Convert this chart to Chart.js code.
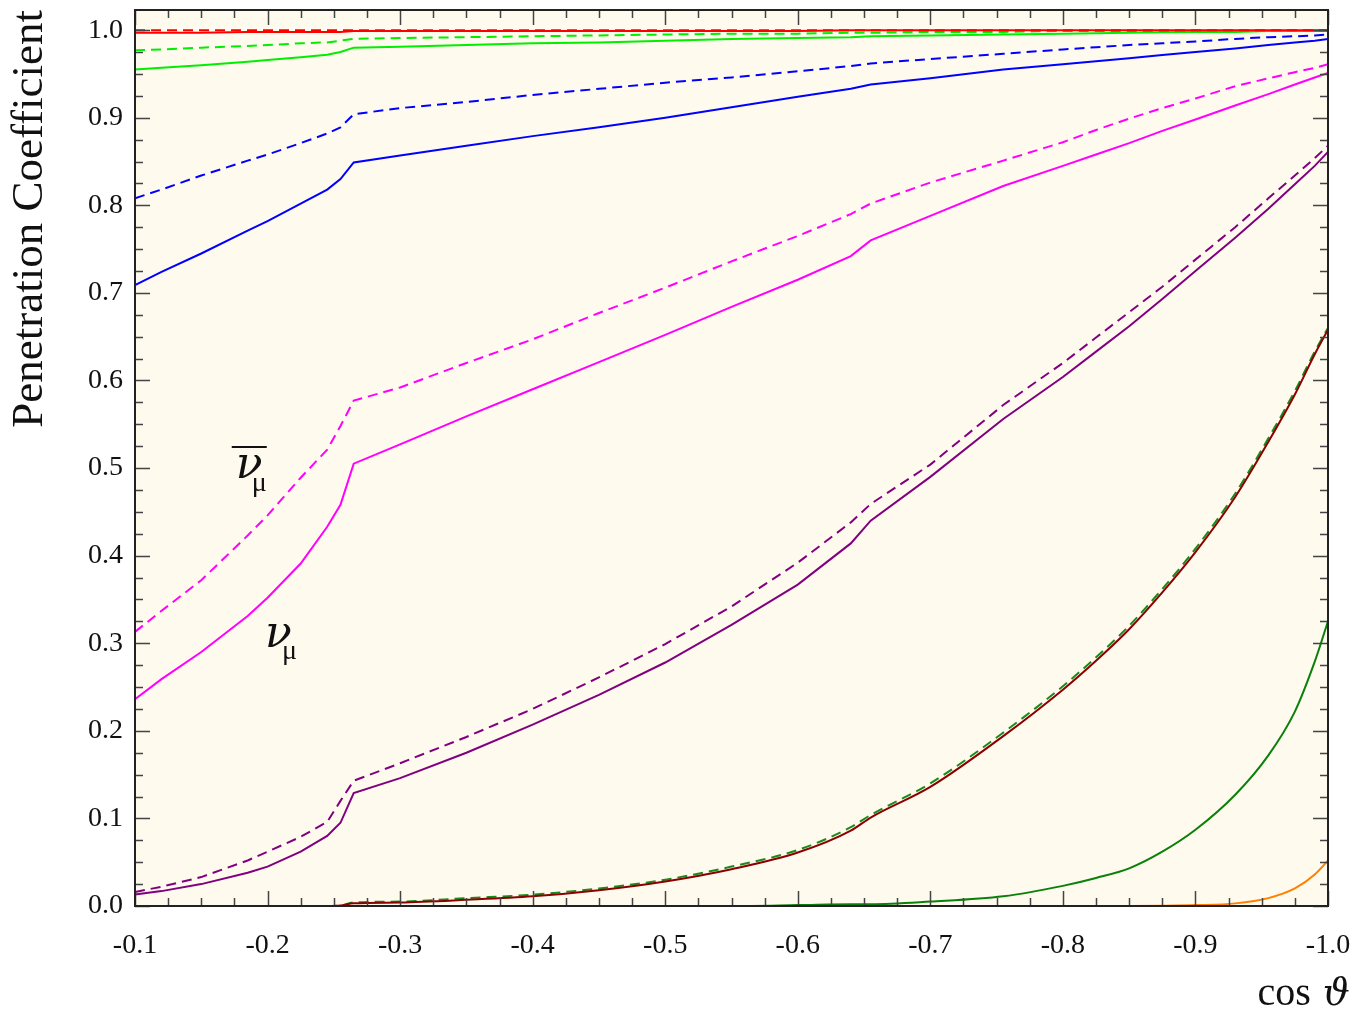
<!DOCTYPE html>
<html>
<head>
<meta charset="utf-8">
<script src="https://cdn.jsdelivr.net/npm/chart.js@4.4.1/dist/chart.umd.min.js"></script>
<style>
  html, body { margin: 0; padding: 0; background: #fff; }
  #wrap { width: 1360px; height: 1011px; }
</style>
</head>
<body>
<div id="wrap"><canvas id="chart"></canvas></div>
<script>
// cos(theta) sample points shared by every curve
const cosTheta = [-0.1, -0.12, -0.15, -0.185, -0.2, -0.225, -0.245, -0.255, -0.265, -0.3,
  -0.35, -0.4, -0.45, -0.5, -0.55, -0.6, -0.64, -0.655, -0.7, -0.755,
  -0.8, -0.825, -0.85, -0.875, -0.9, -0.93, -0.955, -0.975, -0.99, -1.0];

// penetration coefficients (solid = nu_mu, dashed = anti nu_mu)
const redNu      = [0.997, 0.997, 0.997, 0.998, 0.998, 0.998, 0.998, 0.998, 0.999, 0.999, 0.999, 0.999, 0.999, 0.999, 0.999, 0.999, 1.0, 1.0, 1.0, 1.0, 1.0, 1.0, 1.0, 1.0, 1.0, 1.0, 1.0, 1.0, 1.0, 1.0];
const redNuBar   = [1.0, 1.0, 1.0, 1.0, 1.0, 1.0, 1.0, 1.0, 1.0, 1.0, 1.0, 1.0, 1.0, 1.0, 1.0, 1.0, 1.0, 1.0, 1.0, 1.0, 1.0, 1.0, 1.0, 1.0, 1.0, 1.0, 1.0, 1.0, 1.0, 1.0];
const limeNu     = [0.955, 0.957, 0.960, 0.964, 0.966, 0.969, 0.972, 0.975, 0.980, 0.981, 0.983, 0.985, 0.986, 0.988, 0.990, 0.991, 0.992, 0.993, 0.994, 0.995, 0.996, 0.9965, 0.997, 0.9975, 0.998, 0.998, 0.999, 0.999, 0.999, 0.999];
const limeNuBar  = [0.977, 0.978, 0.980, 0.982, 0.983, 0.985, 0.986, 0.988, 0.990, 0.991, 0.992, 0.993, 0.994, 0.995, 0.996, 0.996, 0.997, 0.997, 0.998, 0.998, 0.999, 0.999, 0.999, 0.999, 0.999, 0.999, 0.999, 1.0, 1.0, 1.0];
const blueNu     = [0.709, 0.724, 0.745, 0.771, 0.782, 0.802, 0.818, 0.830, 0.849, 0.857, 0.868, 0.879, 0.889, 0.900, 0.912, 0.924, 0.933, 0.938, 0.945, 0.955, 0.961, 0.9645, 0.968, 0.9715, 0.975, 0.979, 0.983, 0.986, 0.988, 0.990];
const blueNuBar  = [0.808, 0.818, 0.834, 0.851, 0.858, 0.871, 0.882, 0.889, 0.904, 0.911, 0.918, 0.926, 0.933, 0.940, 0.946, 0.953, 0.959, 0.962, 0.967, 0.973, 0.978, 0.9805, 0.983, 0.985, 0.987, 0.990, 0.992, 0.993, 0.994, 0.995];
const magNu      = [0.236, 0.259, 0.290, 0.331, 0.352, 0.391, 0.433, 0.458, 0.505, 0.527, 0.559, 0.590, 0.621, 0.652, 0.684, 0.715, 0.742, 0.760, 0.788, 0.822, 0.845, 0.858, 0.871, 0.885, 0.898, 0.914, 0.927, 0.938, 0.946, 0.951];
const magNuBar   = [0.313, 0.337, 0.372, 0.423, 0.446, 0.489, 0.521, 0.548, 0.577, 0.592, 0.620, 0.647, 0.677, 0.706, 0.736, 0.765, 0.790, 0.802, 0.826, 0.851, 0.872, 0.886, 0.899, 0.911, 0.922, 0.936, 0.945, 0.952, 0.957, 0.961];
const purNu      = [0.013, 0.017, 0.025, 0.038, 0.045, 0.062, 0.080, 0.095, 0.129, 0.146, 0.175, 0.207, 0.241, 0.278, 0.321, 0.367, 0.414, 0.440, 0.490, 0.556, 0.604, 0.633, 0.662, 0.693, 0.725, 0.763, 0.796, 0.824, 0.845, 0.861];
const purNuBar   = [0.016, 0.022, 0.033, 0.052, 0.062, 0.079, 0.096, 0.120, 0.143, 0.163, 0.193, 0.225, 0.261, 0.299, 0.342, 0.392, 0.438, 0.459, 0.504, 0.572, 0.620, 0.649, 0.678, 0.707, 0.738, 0.775, 0.808, 0.834, 0.854, 0.868];
const dkRedNu    = [0, 0, 0, 0, 0, 0, 0, 0.0005, 0.003, 0.004, 0.007, 0.011, 0.018, 0.028, 0.042, 0.061, 0.086, 0.101, 0.136, 0.194, 0.247, 0.280, 0.316, 0.358, 0.404, 0.467, 0.530, 0.584, 0.630, 0.658];
const dkGreenNuBar = [0, 0, 0, 0, 0, 0, 0, 0.0005, 0.004, 0.005, 0.009, 0.013, 0.020, 0.030, 0.045, 0.064, 0.090, 0.104, 0.140, 0.198, 0.251, 0.284, 0.320, 0.362, 0.408, 0.471, 0.534, 0.588, 0.633, 0.660];
const dkGreenNu  = [0, 0, 0, 0, 0, 0, 0, 0, 0, 0, 0, 0, 0, 0, 0, 0.001, 0.002, 0.002, 0.005, 0.011, 0.023, 0.032, 0.043, 0.062, 0.087, 0.127, 0.172, 0.222, 0.279, 0.325];
const orangeNu   = [0, 0, 0, 0, 0, 0, 0, 0, 0, 0, 0, 0, 0, 0, 0, 0, 0, 0, 0, 0, 0, 0, 0, 0.0003, 0.001, 0.003, 0.009, 0.020, 0.036, 0.052];

const yTicks = [0, 0.1, 0.2, 0.3, 0.4, 0.5, 0.6, 0.7, 0.8, 0.9, 1.0];
const xTicks = [-0.1, -0.2, -0.3, -0.4, -0.5, -0.6, -0.7, -0.8, -0.9, -1.0];

const SERIF = '"Liberation Serif", "DejaVu Serif", serif';

function curve(label, values, color, dashed, smooth) {
  return {
    label,
    data: cosTheta.map((x, i) => ({ x, y: values[i] })),
    borderColor: color,
    borderWidth: 2,
    borderDash: dashed ? [10, 6] : [],
    pointRadius: 0,
    fill: false,
    tension: 0,
    cubicInterpolationMode: smooth ? 'monotone' : 'default'
  };
}

// background, inward ticks on all sides, frame, titles, nu labels
const decor = {
  id: 'decor',
  beforeDraw(chart) {
    const { ctx, chartArea: a } = chart;
    ctx.save();
    ctx.fillStyle = '#fefaee';
    ctx.fillRect(a.left, a.top, a.right - a.left, a.bottom - a.top);
    ctx.restore();
  },
  afterDraw(chart) {
    const { ctx, chartArea: a, scales: { x, y } } = chart;
    ctx.save();
    ctx.strokeStyle = '#444';
    ctx.lineWidth = 1.5;
    ctx.beginPath();
    for (let i = 0; i <= 36; i++) {
      const px = Math.round(x.getPixelForValue(-0.1 - i * 0.025)) + 0.5;
      const len = i % 4 === 0 ? 15 : 8;
      ctx.moveTo(px, a.bottom); ctx.lineTo(px, a.bottom - len);
      ctx.moveTo(px, a.top); ctx.lineTo(px, a.top + len);
    }
    for (let i = 0; i <= 40; i++) {
      const py = Math.round(y.getPixelForValue(i * 0.025)) + 0.5;
      const len = i % 4 === 0 ? 15 : 8;
      ctx.moveTo(a.left, py); ctx.lineTo(a.left + len, py);
      ctx.moveTo(a.right, py); ctx.lineTo(a.right - len, py);
    }
    ctx.stroke();

    ctx.strokeStyle = '#222';
    ctx.lineWidth = 2;
    ctx.strokeRect(a.left, a.top, a.right - a.left, a.bottom - a.top);

    ctx.fillStyle = '#111';
    // y title
    ctx.save();
    ctx.translate(42, a.top);
    ctx.rotate(-Math.PI / 2);
    ctx.font = '45px ' + SERIF;
    ctx.textAlign = 'right';
    ctx.textBaseline = 'alphabetic';
    ctx.fillText('Penetration Coefficient', 0, 0);
    ctx.restore();
    // x title: "cos" plus theta symbol
    ctx.textBaseline = 'alphabetic';
    ctx.textAlign = 'right';
    ctx.font = 'italic 38px "DejaVu Serif", serif';
    ctx.fillText('\u03D1', a.right + 22, 1005);
    const thetaW = ctx.measureText('\u03D1').width;
    ctx.font = '40px ' + SERIF;
    ctx.fillText('cos', a.right + 22 - thetaW - 12, 1005);

    // nu-bar_mu and nu_mu labels
    ctx.textAlign = 'left';
    const NU = 'italic 44px "DejaVu Serif", serif';
    const bx = x.getPixelForValue(-0.176), by = y.getPixelForValue(0.4886);
    ctx.font = NU;
    ctx.fillText('\u03BD', bx, by);
    ctx.font = '28px ' + SERIF;
    ctx.fillText('\u03BC', bx + 16, by + 13);
    ctx.lineWidth = 2;
    ctx.strokeStyle = '#111';
    ctx.beginPath();
    ctx.moveTo(bx - 4, by - 31);
    ctx.lineTo(bx + 31, by - 31);
    ctx.stroke();

    const nx = x.getPixelForValue(-0.198), ny = y.getPixelForValue(0.2957);
    ctx.font = NU;
    ctx.fillText('\u03BD', nx, ny);
    ctx.font = '28px ' + SERIF;
    ctx.fillText('\u03BC', nx + 17, ny + 12);
    ctx.restore();
  }
};

new Chart(document.getElementById('chart'), {
  type: 'line',
  data: {
    datasets: [
      curve('nu red', redNu, '#ff0000', false),
      curve('nubar red', redNuBar, '#ff0000', true),
      curve('nu lime', limeNu, '#00ee00', false),
      curve('nubar lime', limeNuBar, '#00ee00', true),
      curve('nu blue', blueNu, '#0000ff', false),
      curve('nubar blue', blueNuBar, '#0000ff', true),
      curve('nu magenta', magNu, '#ff00ff', false),
      curve('nubar magenta', magNuBar, '#ff00ff', true),
      curve('nu purple', purNu, '#800080', false),
      curve('nubar purple', purNuBar, '#800080', true),
      curve('nu darkred', dkRedNu, '#8b0000', false, true),
      curve('nubar darkgreen', dkGreenNuBar, '#1a8a1a', true, true),
      curve('nu darkgreen', dkGreenNu, '#0a800a', false, true),
      curve('nu orange', orangeNu, '#ff8000', false, true)
    ]
  },
  options: {
    responsive: true,
    maintainAspectRatio: false,
    animation: false,
    devicePixelRatio: 1,
    layout: { padding: { top: 10, right: 32, left: 0, bottom: 0 } },
    plugins: { legend: { display: false }, tooltip: { enabled: false } },
    scales: {
      x: {
        type: 'linear',
        reverse: true,
        min: -1.0,
        max: -0.1,
        afterFit: s => { s.height = 105; s.paddingLeft = 0; s.paddingRight = 0; },
        afterBuildTicks: s => { s.ticks = xTicks.map(v => ({ value: v })); },
        grid: { display: false, drawTicks: false },
        border: { display: false },
        ticks: {
          padding: 23,
          maxRotation: 0,
          color: '#111',
          font: { family: SERIF, size: 28 },
          callback: v => v.toFixed(1)
        }
      },
      y: {
        type: 'linear',
        min: 0,
        max: 1.023,
        afterFit: s => { s.width = 135; s.paddingTop = 0; s.paddingBottom = 0; },
        afterBuildTicks: s => { s.ticks = yTicks.map(v => ({ value: v })); },
        grid: { display: false, drawTicks: false },
        border: { display: false },
        ticks: {
          padding: 12,
          color: '#111',
          font: { family: SERIF, size: 28 },
          callback: v => v.toFixed(1)
        }
      }
    }
  },
  plugins: [decor]
});
</script>
</body>
</html>
